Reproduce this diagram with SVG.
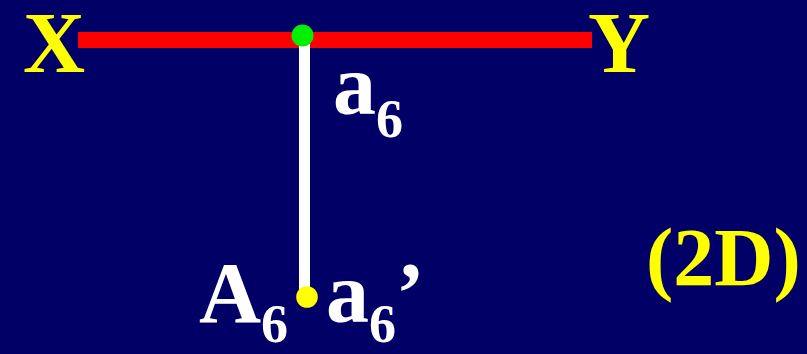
<svg xmlns="http://www.w3.org/2000/svg" width="807" height="354" viewBox="0 0 807 354">
<style>
.t{font-family:"Liberation Serif","Times New Roman",serif;font-weight:bold}
.y{fill:#ffff00}
.w{fill:#ffffff}
</style>
<rect width="807" height="354" fill="#000066"/>
<g id="connectors">
<rect x="78" y="32" width="514" height="16" fill="#ff0000"/>
<rect x="299" y="40" width="11" height="257" fill="#ffffff"/>
</g>
<g id="point-a6">
<circle cx="302.5" cy="35.5" r="11" fill="#00ee00"/>
<text class="t w" x="333" y="114" font-size="86">a<tspan font-size="54" dy="23">6</tspan></text>
</g>
<g id="point-A6">
<circle cx="307" cy="297" r="10.8" fill="#ffff00"/>
<text class="t w" x="199" y="322" font-size="86">A<tspan font-size="54" dy="20">6</tspan></text>
<text class="t w" x="326" y="322" font-size="86">a<tspan font-size="54" dy="20">6</tspan><tspan dy="-20">’</tspan></text>
</g>
<g id="label-X"><text class="t y" x="23" y="72" font-size="86">X</text></g>
<g id="label-Y"><text class="t y" x="588" y="72" font-size="86">Y</text></g>
<g id="label-2D"><text class="t y" x="646" y="285" font-size="82">(2D)</text></g>
</svg>
